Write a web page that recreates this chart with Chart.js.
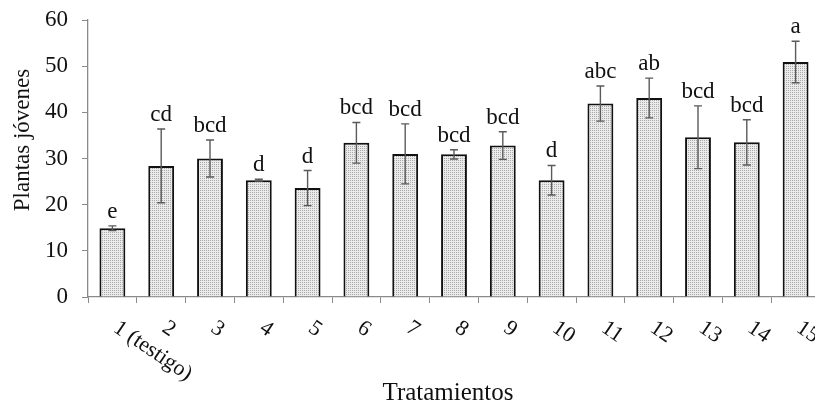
<!DOCTYPE html>
<html>
<head>
<meta charset="utf-8">
<script src="https://cdn.jsdelivr.net/npm/chart.js@4/dist/chart.umd.min.js"></script>
<style>
  html, body { margin: 0; padding: 0; background: #fff; overflow: hidden; }
  #wrap { width: 815px; height: 405px; overflow: hidden; }
</style>
</head>
<body>
<div id="wrap"><canvas id="barChart" width="821" height="405"></canvas></div>
<script>
// chart data
const categories = ["1 (testigo)", "2", "3", "4", "5", "6", "7", "8", "9", "10", "11", "12", "13", "14", "15"];
const means = [14.9, 28.4, 30.0, 25.3, 23.6, 33.4, 31.0, 30.9, 32.8, 25.3, 41.9, 43.1, 34.6, 33.5, 50.9];
const errors = [0.5, 8.0, 4.0, 0.2, 3.8, 4.4, 6.5, 1.0, 3.0, 3.2, 3.8, 4.3, 6.8, 4.9, 4.5];
const letters = ["e", "cd", "bcd", "d", "d", "bcd", "bcd", "bcd", "bcd", "d", "abc", "ab", "bcd", "bcd", "a"];
const yTicks = [0, 10, 20, 30, 40, 50, 60];

const serif = "'Liberation Serif', 'Times New Roman', serif";

// stippled grey fill like the original
function makePattern() {
  const c = document.createElement("canvas");
  c.width = 2;
  c.height = 2;
  const g = c.getContext("2d");
  g.fillStyle = "#ebebeb";
  g.fillRect(0, 0, 2, 2);
  g.fillStyle = "#a9a9a9";
  g.fillRect(0, 0, 1, 1);
  return g.createPattern(c, "repeat");
}

// error bars + letters above them
const errorBars = {
  id: "errorBars",
  afterDatasetsDraw(chart) {
    const ctx = chart.ctx;
    const x = chart.scales.x;
    const y = chart.scales.y;
    ctx.save();
    ctx.strokeStyle = "#5a5a5a";
    ctx.lineWidth = 1.4;
    means.forEach((m, i) => {
      const px = x.getPixelForValue(i);
      const top = y.getPixelForValue(m + errors[i]);
      const bot = y.getPixelForValue(m - errors[i]);
      ctx.beginPath();
      ctx.moveTo(px, top);
      ctx.lineTo(px, bot);
      ctx.moveTo(px - 4, top);
      ctx.lineTo(px + 4, top);
      ctx.moveTo(px - 4, bot);
      ctx.lineTo(px + 4, bot);
      ctx.stroke();

      ctx.fillStyle = "#111";
      ctx.font = "23px " + serif;
      ctx.textAlign = "center";
      ctx.textBaseline = "alphabetic";
      ctx.fillText(letters[i], px, top - 8);
    });
    ctx.restore();
  },
  afterDraw(chart) {
    // slanted category labels and axis titles
    const ctx = chart.ctx;
    const x = chart.scales.x;
    ctx.save();
    ctx.fillStyle = "#111";
    ctx.font = "22px " + serif;
    ctx.textAlign = "left";
    ctx.textBaseline = "middle";
    categories.forEach((c, i) => {
      const px = x.getPixelForValue(i);
      ctx.save();
      ctx.translate(px + 3, 326);
      ctx.rotate(34 * Math.PI / 180);
      ctx.fillText(c, 0, 0);
      ctx.restore();
    });
    ctx.textAlign = "center";
    ctx.textBaseline = "alphabetic";
    ctx.font = "25px " + serif;
    ctx.fillText("Tratamientos", 448, 400);

    ctx.font = "23px " + serif;
    ctx.textBaseline = "middle";
    ctx.translate(23, 140);
    ctx.rotate(-Math.PI / 2);
    ctx.fillText("Plantas jóvenes", 0, 0);
    ctx.restore();
  },
};

const ctx = document.getElementById("barChart").getContext("2d");

new Chart(ctx, {
  type: "bar",
  data: {
    labels: categories,
    datasets: [
      {
        data: means,
        backgroundColor: makePattern(),
        borderColor: "#111",
        borderWidth: 2,
        barPercentage: 0.53,
        categoryPercentage: 1,
      },
    ],
  },
  options: {
    responsive: false,
    animation: false,
    layout: { padding: { top: 20, right: 1, left: 0, bottom: 0 } },
    plugins: {
      legend: { display: false },
      tooltip: { enabled: false },
    },
    scales: {
      x: {
        grid: {
          display: true,
          offset: true,
          drawOnChartArea: false,
          drawTicks: true,
          tickLength: 6,
          color: "#8a8a8a",
        },
        border: { color: "#8a8a8a", width: 1.3 },
        ticks: { display: false },
        afterFit(scale) {
          scale.height = 108;
        },
      },
      y: {
        min: 0,
        max: 60,
        afterBuildTicks(scale) {
          scale.ticks = yTicks.map((v) => ({ value: v }));
        },
        grid: {
          display: true,
          drawOnChartArea: false,
          drawTicks: true,
          tickLength: 6,
          color: "#8a8a8a",
        },
        border: { color: "#8a8a8a", width: 1.3 },
        ticks: {
          padding: 14,
          color: "#111",
          font: { family: serif, size: 23 },
        },
        afterFit(scale) {
          scale.width = 88;
          scale.paddingTop = 0;
          scale.paddingBottom = 0;
        },
      },
    },
  },
  plugins: [errorBars],
});
</script>
</body>
</html>
